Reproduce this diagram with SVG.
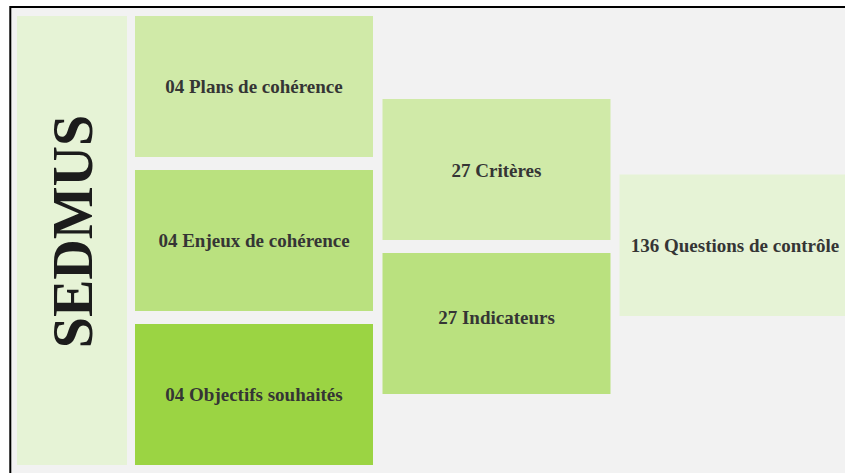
<svg xmlns="http://www.w3.org/2000/svg" width="845" height="473" viewBox="0 0 845 473">
<style>
.lbl{font-family:"Liberation Serif","Times New Roman",serif;font-weight:bold;font-size:19px;fill:#353535;text-anchor:middle}
.big{font-family:"Liberation Serif","Times New Roman",serif;font-weight:bold;font-size:56px;fill:#1c1c1c;text-anchor:middle}
.c1{fill:#e6f3d6}
.c2{fill:#d0eaa8}
.c3{fill:#bae17f}
.c4{fill:#9bd443}
</style>
<rect x="0" y="0" width="845" height="473" fill="#ffffff"/>
<rect x="10.3" y="7" width="850" height="480" fill="#f2f2f2" stroke="#000" stroke-width="2"/>
<g id="sedmus">
<rect class="c1" x="17" y="16" width="110" height="449"/>
<text class="big" transform="translate(92,231.5) rotate(-90)">SEDMUS</text>
</g>
<g id="plans">
<rect class="c2" x="135" y="16" width="238" height="141"/>
<text class="lbl" x="254" y="93">04 Plans de cohérence</text>
</g>
<g id="enjeux">
<rect class="c3" x="135" y="170" width="238" height="141"/>
<text class="lbl" x="254" y="247">04 Enjeux de cohérence</text>
</g>
<g id="objectifs">
<rect class="c4" x="135" y="324" width="238" height="141"/>
<text class="lbl" x="254" y="401">04 Objectifs souhaités</text>
</g>
<g id="criteres">
<rect class="c2" x="382.5" y="99" width="228" height="141"/>
<text class="lbl" x="496.5" y="177">27 Critères</text>
</g>
<g id="indicateurs">
<rect class="c3" x="382.5" y="253" width="228" height="141"/>
<text class="lbl" x="496.5" y="324">27 Indicateurs</text>
</g>
<g id="questions">
<rect class="c1" x="619.5" y="174.5" width="240" height="141.5"/>
<text class="lbl" x="735" y="252">136 Questions de contrôle</text>
</g>
<g id="connectors"></g>
</svg>
